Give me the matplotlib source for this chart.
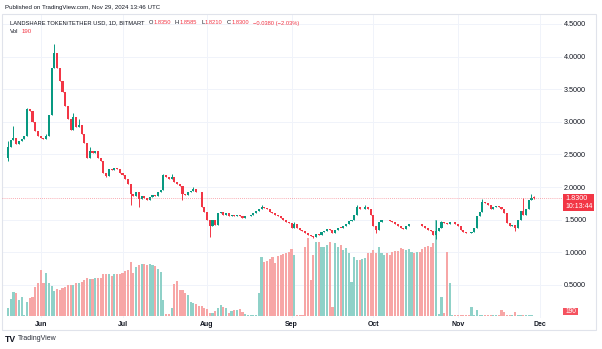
import numpy as np
import matplotlib
matplotlib.use("Agg")
import matplotlib.pyplot as plt
from matplotlib.patches import Rectangle

plt.rcParams['font.family'] = ['Liberation Sans', 'DejaVu Sans']

W, H = 602, 349

# ---- data ----
start_date = np.datetime64('2024-05-20')
first_open = 2.44
closes = [
    2.61, 2.72, 2.76, 2.66, 2.70, 2.74, 2.79, 3.19, 3.17, 3.00,
    2.86, 2.79, 2.75, 2.73, 2.79, 3.11, 3.83, 4.05, 3.83, 3.62,
    3.45, 3.25, 3.05, 2.88, 3.08, 2.92, 2.95, 2.82, 2.68, 2.45,
    2.55, 2.52, 2.55, 2.44, 2.40, 2.22, 2.17, 2.28, 2.26, 2.29,
    2.27, 2.22, 2.18, 2.13, 2.05, 1.90, 1.87, 1.92, 1.82, 1.86,
    1.84, 1.80, 1.85, 1.88, 1.86, 1.92, 1.96, 2.18, 2.16, 2.12,
    2.16, 2.08, 2.05, 2.02, 1.90, 1.88, 1.92, 1.94, 1.97, 1.93,
    1.92, 1.70, 1.62, 1.50, 1.40, 1.50, 1.42, 1.60, 1.62, 1.58,
    1.60, 1.55, 1.58, 1.56, 1.58, 1.55, 1.53, 1.55, 1.56, 1.57,
    1.60, 1.63, 1.66, 1.70, 1.68, 1.66, 1.62, 1.60, 1.57, 1.55,
    1.52, 1.50, 1.47, 1.45, 1.37, 1.44, 1.38, 1.35, 1.33, 1.30,
    1.27, 1.25, 1.24, 1.28, 1.27, 1.31, 1.33, 1.36, 1.34, 1.30,
    1.35, 1.38, 1.37, 1.40, 1.44, 1.48, 1.50, 1.58, 1.69, 1.66,
    1.67, 1.70, 1.66, 1.58, 1.41, 1.35, 1.47, 1.49, 1.50, 1.49,
    1.48, 1.46, 1.44, 1.41, 1.38, 1.36, 1.40, 1.43, 1.44, 1.43,
    1.44, 1.43, 1.40, 1.37, 1.34, 1.33, 1.27, 1.33, 1.37, 1.46,
    1.45, 1.44, 1.46, 1.46, 1.44, 1.40, 1.35, 1.31, 1.30, 1.29,
    1.31, 1.38, 1.56, 1.62, 1.77, 1.76, 1.72, 1.67, 1.70, 1.71,
    1.69, 1.66, 1.60, 1.45, 1.41, 1.42, 1.38, 1.49, 1.64, 1.58,
    1.66, 1.80, 1.835, 1.83,
]
# notable wick extremes (day index -> price)
wick_highs = {0: 2.70, 2: 2.94, 7: 3.21, 14: 2.82, 17: 4.19, 18: 4.06, 24: 3.13,
              26: 3.05, 30: 2.62, 57: 2.20, 60: 2.20, 68: 2.00, 93: 1.73, 105: 1.47,
              128: 1.72, 131: 1.73, 157: 1.50, 159: 1.48, 174: 1.82, 189: 1.84,
              192: 1.90, 193: 1.8585}
wick_lows = {0: 2.40, 36: 2.15, 45: 1.72, 48: 1.69, 64: 1.80, 74: 1.23, 112: 1.22,
             135: 1.30, 157: 1.20, 186: 1.33, 193: 1.821}
# daily volume, thousands
volume_k = [
    7.7, 16.7, 23.7, 23.3, 16, 18.7, 1, 13.7, 18.3, 19.3,
    29.3, 33.3, 46, 32.7, 42.7, 33.3, 30, 25.3, 26.7, 26,
    27.7, 28.7, 31, 31, 31, 32.7, 32.7, 34.3, 36, 38.3,
    36.7, 36.7, 38.3, 38.3, 38.3, 42, 42, 42, 40, 42,
    41.7, 42, 43.3, 45, 46, 54.3, 43.3, 49.3, 51, 52,
    51.7, 51, 52, 51, 50, 46.7, 44.3, 16, 2, 2,
    7.7, 32, 35.3, 26, 26, 23.3, 21, 14.3, 12.7, 12,
    10, 10, 7.7, 6.7, 2.7, 3.3, 5.3, 7.7, 11, 9.3,
    7.7, 3.3, 5.3, 6, 6, 6.7, 4.3, 2, 1, 1,
    0.7, 0.7, 23.3, 58.7, 54.3, 55.3, 56.7, 59.3, 52.7, 60,
    61, 62, 62.7, 64.3, 66.7, 61, 1, 1, 1, 68.7,
    78, 36, 61, 74, 74, 69, 69, 71, 74, 9,
    73, 69, 71, 66, 68, 63, 34, 59, 56, 56,
    57, 58, 63, 63, 66, 63, 69, 63, 61, 63,
    61, 64, 65, 65, 68, 67, 66, 67, 64, 63,
    64, 64, 67, 69, 70, 69, 73, 96, 2, 19,
    3, 64, 33, 1, 1, 1, 0.7, 1, 1, 1,
    9, 1.5, 6, 1, 1.5, 1, 1, 1, 1, 1,
    1, 6, 4, 1, 1, 1, 4, 1, 1.5, 1,
    1.5, 1.2, 1, 0.19,
]

month_starts = ['2024-06-01', '2024-07-01', '2024-08-01', '2024-09-01',
                '2024-10-01', '2024-11-01', '2024-12-01']
month_labels = ['Jun', 'Jul', 'Aug', 'Sep', 'Oct', 'Nov', 'Dec']
price_ticks = [0.5, 1.0, 1.5, 2.0, 2.5, 3.0, 3.5, 4.0, 4.5]
last_price = 1.83
countdown = '10:13:44'
last_vol = '190'
published = 'Published on TradingView.com, Nov 29, 2024 13:46 UTC'
symbol = 'LANDSHARE TOKEN/TETHER USD, 1D, BITMART'
ohlc = [('O', '1.8350'), ('H', '1.8585'), ('L', '1.8210'), ('C', '1.8300')]
change = '\u22120.0380 (\u22122.03%)'

UP, DOWN = '#089981', '#f23645'
VOL_UP, VOL_DOWN = '#8fd1c8', '#f7a6a6'
TXT = '#131722'
GRID = '#f0f3fa'

opens = [first_open] + closes[:-1]
idx = np.arange(len(closes))
is_up = np.array(closes) >= np.array(opens)


def fx(px):
    return px / W


def fy(py):
    return 1 - py / H


fig = plt.figure(figsize=(W / 100, H / 100), dpi=100)
fig.patch.set_facecolor('white')

rect = [fx(2), fy(318), (562 - 2) / W, (318 - 14) / H]
ax = fig.add_axes(rect, zorder=1)
ax_vol = fig.add_axes(rect, sharex=ax, zorder=2)
ax_c = fig.add_axes(rect, sharex=ax, sharey=ax, zorder=3)

ax.set_xlim(-2.2, 203.2)
ax.set_ylim(-0.006, 4.653)

# grid + price scale
month_pos = [(np.datetime64(m) - start_date).astype(int) for m in month_starts]
ax.set_xticks(month_pos)
ax.set_xticklabels(month_labels)
ax.set_yticks(price_ticks)
ax.set_yticklabels([f'{p:.4f}' for p in price_ticks])
ax.yaxis.tick_right()
ax.tick_params(axis='y', length=0, pad=1.5, labelsize=5.2, labelcolor=TXT)
ax.tick_params(axis='x', length=0, pad=2.5, labelsize=5.0, labelcolor=TXT)
for lab in ax.get_xticklabels():
    lab.set_fontweight('bold')
ax.grid(True, color=GRID, linewidth=0.7)
for s in ax.spines.values():
    s.set_visible(False)

# volume
ax_vol.set_ylim(-2, 302)
ax_vol.bar(idx, volume_k, width=0.78, color=[VOL_UP if u else VOL_DOWN for u in is_up],
           linewidth=0)
ax_vol.set_axis_off()
ax_vol.patch.set_visible(False)

# candles
highs = [wick_highs.get(i, max(o, c)) for i, (o, c) in enumerate(zip(opens, closes))]
lows = [wick_lows.get(i, min(o, c)) for i, (o, c) in enumerate(zip(opens, closes))]
cols = [UP if u else DOWN for u in is_up]
ax_c.vlines(idx, lows, highs, colors=cols, linewidth=0.7)
bottoms = np.minimum(opens, closes)
heights = np.maximum(np.abs(np.array(closes) - np.array(opens)), 0.012)
ax_c.bar(idx, heights, bottom=bottoms, width=0.76, color=cols, linewidth=0)
ax_c.axhline(last_price, color=DOWN, linewidth=0.6, linestyle=(0, (1, 1.5)), alpha=0.55)
ax_c.set_axis_off()
ax_c.patch.set_visible(False)

# outer frame
fig.patches.append(Rectangle((fx(2), fy(330)), (596 - 2) / W, (330 - 14) / H,
                             transform=fig.transFigure, fill=False,
                             edgecolor='#e0e3eb', linewidth=0.8))

# last price label
fig.patches.append(Rectangle((fx(563), fy(210.5)), 31 / W, 17 / H,
                             transform=fig.transFigure, color=DOWN, linewidth=0))
fig.text(fx(565.5), fy(198), f'{last_price:.4f}', color='white', fontsize=5.2,
         va='center', ha='left')
fig.text(fx(565.5), fy(206), countdown, color='white', fontsize=5.0, va='center', ha='left')
# last volume label
fig.patches.append(Rectangle((fx(563), fy(315)), 15 / W, 7.5 / H,
                             transform=fig.transFigure, color='#f5525f', linewidth=0))
fig.text(fx(570.5), fy(311.3), last_vol, color='white', fontsize=4.8, va='center',
         ha='center')

# header texts
renderer = fig.canvas.get_renderer()


def runs(x_px, y_px, parts, size):
    x = x_px
    for s, col, gap in parts:
        t = fig.text(fx(x), fy(y_px), s, color=col, fontsize=size, va='center', ha='left')
        x += t.get_window_extent(renderer=renderer).width + gap


fig.text(fx(5), fy(7), published, color=TXT, fontsize=4.45, va='center', ha='left')
parts = [(symbol, TXT, 4)]
for k, v in ohlc:
    parts.append((k, TXT, 0.5))
    parts.append((v, DOWN, 4))
parts.append((change, DOWN, 0))
runs(10, 23, parts, 4.15)
runs(10, 31.5, [('Vol', TXT, 3), (last_vol, DOWN, 0)], 4.4)

# footer logo
fig.text(fx(5), fy(339), 'TV', color=TXT, fontsize=6.2, fontweight='bold',
         va='center', ha='left')
fig.text(fx(17.5), fy(339), 'TradingView', color='#2a2e39', fontsize=5.0, va='center',
         ha='left')

fig.savefig('out.png', dpi=100)
